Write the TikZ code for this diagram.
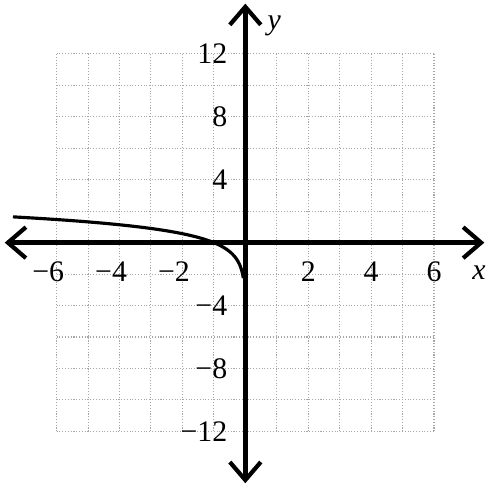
\documentclass[tikz,border=0pt]{standalone}
\usepackage{fontspec}
\setmainfont{Liberation Serif}
\usetikzlibrary{arrows.meta}

\begin{document}
\begin{tikzpicture}[x=0.63cm, y=0.315cm, >={Straight Barb[length=0.36cm, width=0.62cm, line width=2.4pt]},
  every node/.style={font=\fontsize{17}{20}\selectfont}]
\useasboundingbox (-7.8,-15.49) rectangle (7.78,15.43);
\draw[densely dotted, line width=0.6pt, gray!70, xstep=1, ystep=2] (-6,-12) grid (6,12);

% Curve
\draw[line width=1.8pt] plot[smooth, domain=-2.75:2, samples=60] ({-exp(\x)}, {0.82*\x});

\draw[line width=2.6pt, <->] (-7.65,0) -- (7.6,0);
\draw[line width=2.8pt, <->] (0,-15.3) -- (0,15.2);
\node (xlab) at (7.43,-1.9) {\textit{x}};
\node (ylab) at (0.92,13.8) {\textit{y}};

\foreach \x in {2,4,6} \node (xp\x) at (\x,-1.85) {\x};
\foreach \x in {2,4,6} \node (xm\x) at (-\x,-1.85) {\llap{−}\x};
\foreach \y in {4,8,12} \node[anchor=east] (yp\y) at (-0.38,\y) {\y};
\foreach \y in {4,8,12} \node[anchor=east] (ym\y) at (-0.38,-\y) {−\y};

\end{tikzpicture}
\end{document}
